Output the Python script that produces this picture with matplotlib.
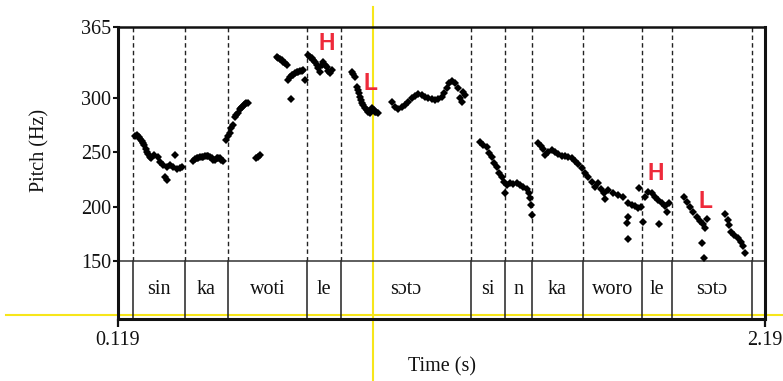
import matplotlib
matplotlib.use("Agg")
import matplotlib.pyplot as plt
from matplotlib.lines import Line2D

# ---------------- data ----------------
time_s = [
    # sin
    0.173, 0.180, 0.186, 0.190, 0.195, 0.199, 0.202, 0.208, 0.212, 0.216, 0.220, 0.225,
    0.235, 0.246, 0.254, 0.264, 0.275, 0.285, 0.296, 0.307, 0.317, 0.325,
    0.269, 0.275, 0.301,
    # ka
    0.360, 0.365, 0.371, 0.376, 0.381, 0.387, 0.392, 0.397, 0.403, 0.408, 0.413, 0.419,
    0.424, 0.430, 0.435, 0.440, 0.445, 0.450, 0.456,
    # woti rise
    0.465, 0.472, 0.477, 0.481, 0.488, 0.493, 0.497, 0.502, 0.509, 0.513, 0.517, 0.521,
    0.525, 0.530, 0.534,
    0.560, 0.566, 0.573,
    # woti high
    0.627, 0.632, 0.638, 0.643, 0.648, 0.654, 0.659,
    0.664, 0.669, 0.675, 0.680, 0.686, 0.691, 0.696, 0.702, 0.707, 0.712, 0.718, 0.672,
    # le (H)
    0.728, 0.734, 0.739, 0.744, 0.750, 0.755, 0.760, 0.766, 0.771, 0.776, 0.782, 0.787,
    0.792, 0.798, 0.803,
    # soto (L)
    0.867, 0.872, 0.878, 0.883, 0.887, 0.890, 0.894, 0.897, 0.901, 0.904, 0.909, 0.915,
    0.920, 0.925, 0.929, 0.933, 0.937, 0.941, 0.946, 0.952,
    # soto hump
    0.995, 1.005, 1.016, 1.027, 1.037, 1.048, 1.059, 1.069, 1.080, 1.091, 1.101, 1.112,
    1.123, 1.133, 1.144, 1.155, 1.163, 1.171, 1.178, 1.187, 1.197, 1.206, 1.213, 1.219,
    1.224, 1.230,
    # si n
    1.278, 1.288, 1.299, 1.306, 1.315, 1.323, 1.331, 1.338, 1.347, 1.355, 1.363, 1.374,
    1.384, 1.395, 1.406, 1.416, 1.427, 1.434, 1.358, 1.438, 1.441, 1.443,
    # ka woro
    1.462, 1.473, 1.480, 1.486, 1.496, 1.507, 1.518, 1.528, 1.539, 1.550, 1.560, 1.571,
    1.582, 1.592, 1.603, 1.614, 1.624, 1.635, 1.646, 1.656, 1.665, 1.676, 1.678, 1.688,
    1.704, 1.720, 1.736, 1.752, 1.763, 1.774, 1.784, 1.793,
    1.752, 1.747, 1.752, 1.800, 1.788,
    # le (H)
    1.806, 1.814, 1.827, 1.838, 1.848, 1.859, 1.870, 1.875, 1.883, 1.851,
    # soto (L)
    1.932, 1.940, 1.950, 1.961, 1.971, 1.982, 1.993, 2.003, 1.998, 1.989, 1.996,
    # final
    2.062, 2.071, 2.075, 2.082, 2.092, 2.103, 2.113, 2.121, 2.126,
]
pitch_hz = [
    # sin
    264.9, 265.5, 264.2, 262.5, 260.5, 258.5, 256.6, 252.6, 250.5, 248.3, 246.0, 244.4,
    247.4, 245.8, 241.2, 238.2, 236.6, 238.2, 236.6, 234.3, 235.2, 236.6,
    227.5, 224.4, 247.4,
    # ka
    242.1, 243.5, 244.4, 245.0, 245.3, 245.6, 245.8, 246.2, 246.5, 246.2, 245.8, 244.3,
    242.8, 243.2, 244.4, 244.6, 244.4, 243.2, 242.1,
    # woti rise
    261.2, 264.9, 268.0, 271.9, 275.0, 282.0, 284.0, 285.7, 289.4, 290.5, 291.8, 293.0,
    294.3, 295.0, 295.5,
    244.4, 246.0, 247.4,
    # woti high
    337.7, 336.5, 335.5, 334.5, 333.1, 331.5, 330.1,
    316.3, 319.5, 320.5, 320.9, 322.5, 323.2, 324.0, 324.5, 325.0, 325.5, 316.3, 298.6,
    # le (H)
    339.3, 337.5, 336.2, 334.7, 332.5, 330.1, 327.5, 324.0, 330.0, 333.1, 330.5, 328.5,
    325.0, 322.5, 325.5,
    # soto (L)
    324.0, 321.5, 319.3, 310.2, 307.0, 304.1, 301.0, 297.9, 295.5, 293.3, 291.0, 288.7,
    287.0, 285.7, 287.5, 290.3, 288.5, 287.2, 286.5, 285.7,
    # soto hump
    296.4, 291.8, 289.4, 291.2, 293.3, 296.4, 299.5, 301.6, 303.2, 302.5, 301.0, 300.0,
    298.6, 297.9, 298.6, 301.0, 304.1, 308.7, 313.3, 315.7, 313.3, 308.7, 299.5, 296.4,
    305.6, 302.5,
    # si n
    259.6, 256.6, 254.5, 249.5, 245.3, 240.3, 236.1, 231.1, 226.9, 222.9, 219.8, 221.4,
    220.7, 221.9, 219.8, 217.7, 215.9, 212.8, 212.8, 207.6, 201.5, 192.3,
    # ka woro
    258.1, 255.7, 252.6, 247.4, 250.4, 252.0, 250.4, 248.3, 246.5, 246.5, 245.3, 244.4,
    242.1, 239.1, 235.2, 231.1, 227.5, 222.9, 218.3, 221.4, 215.9, 212.2, 206.7, 215.2,
    212.2, 210.6, 209.1, 203.0, 201.5, 200.5, 198.4, 199.9,
    190.7, 185.2, 170.0, 186.1, 216.8,
    # le (H)
    209.1, 213.7, 212.2, 209.1, 206.1, 203.6, 200.5, 195.3, 203.0, 184.0,
    # soto (L)
    209.1, 204.5, 199.9, 195.3, 190.7, 187.0, 184.0, 188.3, 180.0, 166.8, 152.5,
    # final
    192.9, 187.7, 183.1, 176.9, 173.9, 170.9, 167.7, 163.8, 157.1,
]

boundaries = [0.167, 0.333, 0.471, 0.724, 0.833, 1.249, 1.358, 1.444,
              1.607, 1.796, 1.892, 2.148]
tier_labels = ["", "sin", "ka", "woti", "le", "sɔtɔ", "si", "n", "ka",
               "woro", "le", "sɔtɔ", ""]
tone_labels = ["H", "L", "H", "L"]
tone_time = [0.788, 0.928, 1.841, 1.998]
tone_pitch = [349.4, 313.0, 230.8, 205.1]

x_min, x_max = 0.119, 2.19
x_tick_labels = ["0.119", "2.19"]
y_ticks = [150, 200, 250, 300, 365]
pitch_floor, pitch_ceiling = 150, 365

# ---------------- figure ----------------
W, H = 783, 381
serif = ["Liberation Serif", "DejaVu Serif"]
fs = 14.5

fig = plt.figure(figsize=(W / 100, H / 100), dpi=100)
ax_left, ax_right, ax_top, ax_bottom = 118, 765, 27, 319
ax = fig.add_axes([ax_left / W, 1 - ax_bottom / H,
                   (ax_right - ax_left) / W, (ax_bottom - ax_top) / H])
ax.patch.set_alpha(0)

px_per_hz = (261 - 27) / (pitch_ceiling - pitch_floor)
tier_bottom = pitch_floor - (ax_bottom - 261) / px_per_hz
ax.set_xlim(x_min, x_max)
ax.set_ylim(tier_bottom, pitch_ceiling)

# yellow guide lines (figure level, behind axes)
yellow = "#f7e61a"
fig.add_artist(Line2D([6 / W, 1.0], [1 - 315 / H, 1 - 315 / H],
                      transform=fig.transFigure, color=yellow, lw=1.5, zorder=-1))
fig.add_artist(Line2D([373 / W, 373 / W], [0.0, 1 - 7 / H],
                      transform=fig.transFigure, color=yellow, lw=1.5, zorder=-1))

# boundaries
for b in boundaries:
    ax.plot([b, b], [pitch_floor, pitch_ceiling], color="#222222", lw=1.0,
            linestyle=(0, (3.2, 2.3)), zorder=2)
    ax.plot([b, b], [tier_bottom, pitch_floor], color="#222222", lw=1.1, zorder=2)
ax.axhline(pitch_floor, color="#333333", lw=1.1, zorder=2)

# tier labels
edges = [x_min] + boundaries + [x_max]
tier_mid = (pitch_floor + tier_bottom) / 2
for i, lab in enumerate(tier_labels):
    if lab:
        ax.text((edges[i] + edges[i + 1]) / 2, tier_mid, lab, ha="center",
                va="center", fontsize=fs, family=serif, color="#111111")

# pitch points
ax.plot(time_s, pitch_hz, linestyle="none", marker="D", markersize=4.3,
        color="black", markeredgewidth=0, zorder=3)

# tone labels
for lab, t, f in zip(tone_labels, tone_time, tone_pitch):
    ax.text(t, f, lab, ha="center", va="center", fontsize=16.5,
            fontweight="bold", family=["Liberation Sans", "DejaVu Sans"],
            color="#ee2a3a", zorder=4)

# axes styling
for side, lw in [("left", 2.2), ("bottom", 2.2), ("top", 1.8), ("right", 2.2)]:
    ax.spines[side].set_linewidth(lw)
    ax.spines[side].set_color("#111111")

ax.set_yticks(y_ticks)
ax.set_yticklabels([str(v) for v in y_ticks], family=serif, fontsize=fs)
ax.set_xticks([x_min, x_max])
ax.set_xticklabels(x_tick_labels, family=serif, fontsize=fs)
ax.tick_params(axis="y", direction="out", length=3.5, width=1.5, pad=1.5,
               colors="#111111")
ax.tick_params(axis="x", direction="out", length=5.5, width=1.6, pad=3,
               colors="#111111")

fig.text(442 / W, 1 - 367 / H, "Time (s)", ha="center", va="center",
         fontsize=fs, family=serif, color="#111111")
fig.text(40 / W, 1 - 150 / H, "Pitch (Hz)", ha="center", va="center",
         rotation=90, fontsize=fs, family=serif, color="#111111")

fig.savefig("out.png", dpi=100)
